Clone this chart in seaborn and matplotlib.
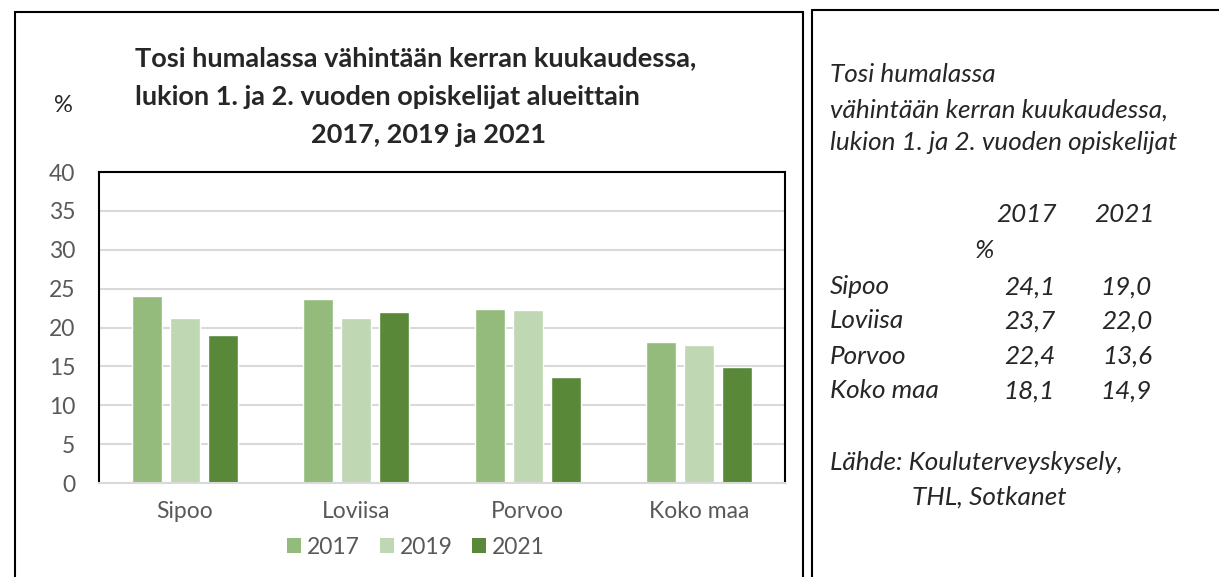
import pandas as pd
import seaborn as sns
import matplotlib.pyplot as plt
from matplotlib.lines import Line2D
from matplotlib.patches import Patch

# Data
regions = ["Sipoo", "Loviisa", "Porvoo", "Koko maa"]
years = ["2017", "2019", "2021"]
share_2017 = [24.1, 23.7, 22.4, 18.1]
share_2019 = [21.2, 21.2, 22.3, 17.8]
share_2021 = [19.0, 22.0, 13.6, 14.9]
y_ticks = [0, 5, 10, 15, 20, 25, 30, 35, 40]

title_lines = ["Tosi humalassa vähintään kerran kuukaudessa,",
               "lukion 1. ja 2. vuoden opiskelijat alueittain",
               "2017, 2019 ja 2021"]
side_lines = ["Tosi humalassa",
              "vähintään kerran kuukaudessa,",
              "lukion 1. ja 2. vuoden opiskelijat"]
source_lines = ["Lähde: Kouluterveyskysely,", "THL, Sotkanet"]

colors = {"2017": "#94BB7B", "2019": "#C0D7B4", "2021": "#588838"}

df = pd.DataFrame({
    "region": regions * 3,
    "year": [y for y in years for _ in regions],
    "value": share_2017 + share_2019 + share_2021,
})

sns.set_theme(style="white")
plt.rcParams["font.family"] = ["Lato", "DejaVu Sans"]

W, H = 1219, 577
fig = plt.figure(figsize=(W / 100, H / 100), dpi=100)
fig.patch.set_facecolor("white")


def fx(px):
    return px / W


def fy(py):
    return (H - py) / H


ax = fig.add_axes([fx(99), fy(483), fx(785) - fx(99), fy(172) - fy(483)])
sns.barplot(data=df, x="region", y="value", hue="year", palette=colors,
            width=0.665, gap=0.21, saturation=1, legend=False, ax=ax)

ax.set_ylim(0, 40)
ax.set_xlim(-0.5, len(regions) - 0.5)
ax.set_yticks(y_ticks)
ax.set_xlabel("")
ax.set_ylabel("")
ax.yaxis.grid(True, color="#d9d9d9", lw=1.5)
ax.set_axisbelow(True)
for side in ["left", "top", "right"]:
    ax.spines[side].set_color("black")
    ax.spines[side].set_linewidth(1.5)
ax.spines["bottom"].set_color("#d9d9d9")
ax.spines["bottom"].set_linewidth(1.5)
ax.tick_params(axis="both", length=0, labelsize=16.5, labelcolor="#595959")
ax.tick_params(axis="y", pad=17)
ax.tick_params(axis="x", pad=13)

handles = [Patch(facecolor=colors[y], edgecolor="none", label=y) for y in years]
ax.legend(handles=handles, loc="center", bbox_to_anchor=(fx(416), fy(547)),
          bbox_transform=fig.transFigure, ncol=3, frameon=False,
          handlelength=0.61, handleheight=0.61, handletextpad=0.26,
          columnspacing=0.87, fontsize=16.5, labelcolor="#595959")

# Chart title
renderer = fig.canvas.get_renderer()
t1 = fig.text(fx(135), fy(58), title_lines[0], fontsize=18, fontweight="bold",
              ha="left", va="center")
w = t1.get_window_extent(renderer).width
title_fs = 18 * 562 / w
t1.set_fontsize(title_fs)
fig.text(fx(135), fy(97), title_lines[1], fontsize=title_fs, fontweight="bold",
         ha="left", va="center")
fig.text(fx(428.5), fy(135), title_lines[2], fontsize=title_fs,
         fontweight="bold", ha="center", va="center")
fig.text(fx(63), fy(106), "%", fontsize=17, color="#262626",
         ha="center", va="center")

# Side panel text
ts = fig.text(fx(830), fy(143), side_lines[2], fontsize=16, style="italic",
              ha="left", va="center")
w = ts.get_window_extent(renderer).width
side_fs = 16 * 347 / w
ts.set_fontsize(side_fs)
fig.text(fx(830), fy(75), side_lines[0], fontsize=side_fs, style="italic",
         ha="left", va="center")
fig.text(fx(830), fy(110), side_lines[1], fontsize=side_fs, style="italic",
         ha="left", va="center")

fig.text(fx(1057), fy(215), years[0], fontsize=side_fs, style="italic",
         ha="right", va="center")
fig.text(fx(1155), fy(215), years[2], fontsize=side_fs, style="italic",
         ha="right", va="center")
fig.text(fx(985), fy(250), "%", fontsize=side_fs, style="italic",
         ha="center", va="center")

row_y = [287, 321, 356, 391]
for name, a, b, yy in zip(regions, share_2017, share_2021, row_y):
    fig.text(fx(830), fy(yy), name, fontsize=side_fs, style="italic",
             ha="left", va="center")
    fig.text(fx(1055), fy(yy), f"{a:.1f}".replace(".", ","), fontsize=side_fs,
             style="italic", ha="right", va="center")
    fig.text(fx(1152), fy(yy), f"{b:.1f}".replace(".", ","), fontsize=side_fs,
             style="italic", ha="right", va="center")

fig.text(fx(830), fy(462), source_lines[0], fontsize=side_fs, style="italic",
         ha="left", va="center")
fig.text(fx(912), fy(497), source_lines[1], fontsize=side_fs, style="italic",
         ha="left", va="center")

# Panel frames
frame_kw = dict(color="black", lw=1.5, transform=fig.transFigure)
for xs, ys in [
    ([15, 15], [12, H]),
    ([15, 803], [12, 12]),
    ([803, 803], [12, H]),
    ([812, 812], [10, H]),
    ([812, W], [10, 10]),
]:
    fig.add_artist(Line2D([fx(x) for x in xs], [fy(y) for y in ys], **frame_kw))

fig.savefig("out.png", dpi=100, facecolor="white")
